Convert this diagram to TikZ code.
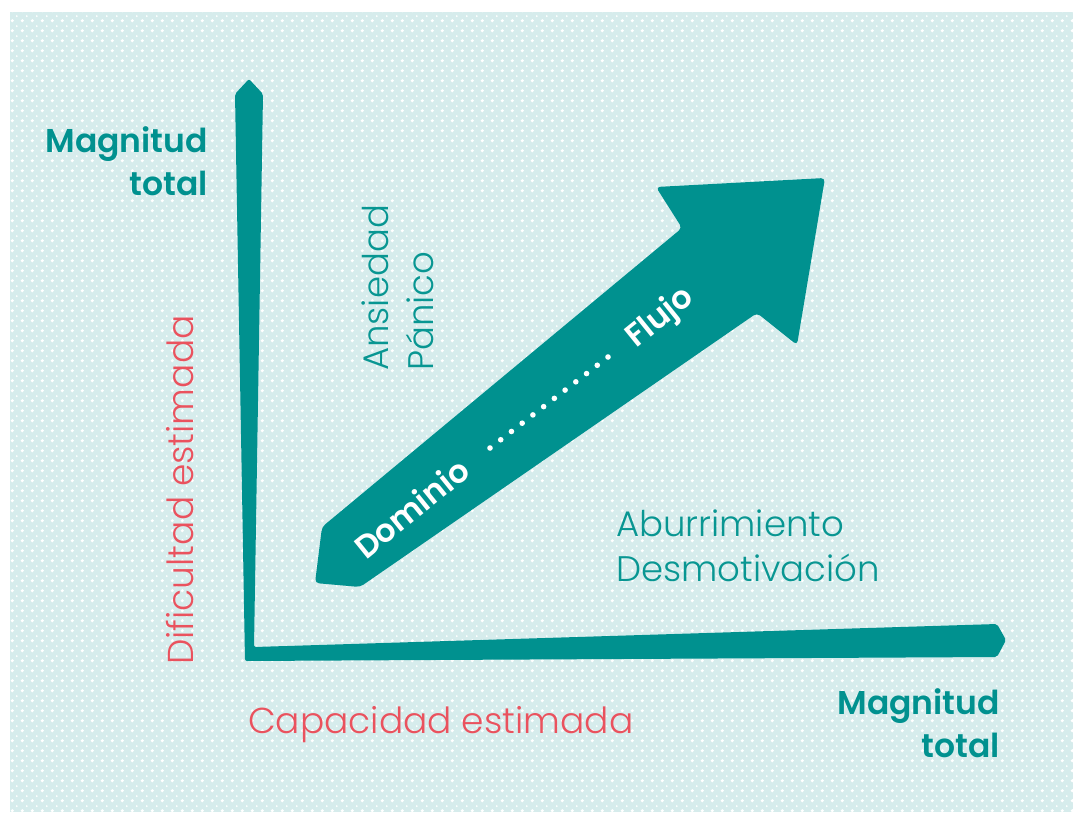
\documentclass[tikz,border=0pt]{standalone}
\usepackage{fontspec}
\setmainfont{Poppins}[UprightFont={* Light}, BoldFont={* SemiBold}]
\usetikzlibrary{patterns.meta,calc}
\definecolor{bgteal}{RGB}{214,236,236}
\definecolor{teal1}{RGB}{0,145,143}
\definecolor{tealtxt}{RGB}{8,150,146}
\definecolor{redtxt}{RGB}{234,82,94}
\tikzdeclarepattern{name=bgdots, type=uncolored,
  bounding box={(0pt,0pt) and (10pt,10pt)}, tile size={(10pt,10pt)},
  code={\fill (2.5pt,2.5pt) circle (1.9pt); \fill (7.5pt,7.5pt) circle (1.1pt);}}
\tikzset{
  boldlbl/.style={font=\bfseries\fontsize{33}{38}\selectfont, text=teal1, inner sep=0pt},
  redlbl/.style={font=\fontsize{36}{40}\selectfont, text=redtxt, inner sep=0pt},
  zonelbl/.style={font=\fontsize{35.5}{40}\selectfont, text=tealtxt, inner sep=0pt},
  arrowlbl/.style={font=\bfseries\fontsize{32}{36}\selectfont, text=white, inner sep=0pt, rotate=39},
  flowdot/.style={fill=white, draw=none},
}
\begin{document}
\begin{tikzpicture}[x=1pt,y=-1pt]
\useasboundingbox (0,0) rectangle (1073,812);
\fill[white] (0,0) rectangle (1073,812);
\fill[bgteal] (10,12) rectangle (1073,812);
\fill[pattern={bgdots}, pattern color=white] (10,12) rectangle (1073,812);
% axes
\fill[teal1, rounded corners=2pt] (249,79) -- (263,94) -- (254,647) -- (997,624) -- (1006,640) -- (997,657) -- (245,661) -- (235,94) -- cycle;
% big arrow
\fill[teal1, rounded corners=4pt] (322,527) -- (682,228) -- (656,187) -- (825,178) -- (797,345) -- (757,313) -- (360,587) -- (315,583) -- cycle;
% labels on arrow
\node[arrowlbl, anchor=base west] (dom) at (366,561) {Dominio};
\node[arrowlbl, anchor=base west] (flu) at (636,349) {Flujo};
\foreach \i in {0,...,11} {
  \fill[flowdot] ($(490,448)!\i/11!(608,357)$) circle (2.8);
}
% axis labels
\node[boldlbl, anchor=base east] (ml1) at (208,152) {Magnitud};
\node[boldlbl, anchor=base east] (tl1) at (208,195) {total};
\node[boldlbl, anchor=base east] (ml2) at (1000,714) {Magnitud};
\node[boldlbl, anchor=base east] (tl2) at (1000,757) {total};
\node[redlbl, anchor=base west, rotate=90] (dif) at (193,665) {Dificultad estimada};
\node[redlbl, anchor=base west] (cap) at (248,733) {Capacidad estimada};
\node[zonelbl, anchor=base west, rotate=90] (ans) at (388,371) {Ansiedad};
\node[zonelbl, anchor=base west, rotate=90] (pan) at (433,371) {Pánico};
\node[zonelbl, anchor=base west] (abu) at (616,536) {Aburrimiento};
\node[zonelbl, anchor=base west] (des) at (616,581) {Desmotivación};
\end{tikzpicture}
\end{document}
